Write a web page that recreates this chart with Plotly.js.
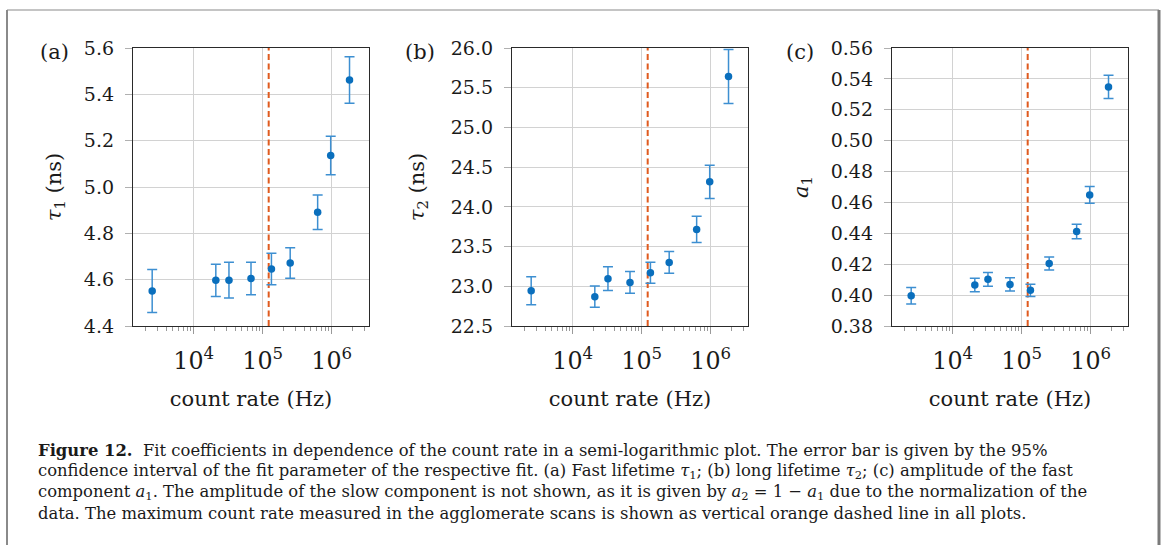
<!DOCTYPE html>
<html>
<head>
<meta charset="utf-8">
<script src="https://cdn.plot.ly/plotly-3.0.1.min.js"></script>
<style>
  html, body { margin: 0; padding: 0; background: #ffffff; }
  #chart { width: 1163px; height: 545px; }
</style>
</head>
<body>
<div id="chart"></div>
<script>
// ---- data ----
const countRate = [2500, 20900, 32400, 67600, 133700, 250000, 625000, 966000, 1810000]; // Hz
const tau1      = [4.551, 4.597, 4.598, 4.605, 4.646, 4.672, 4.891, 5.136, 5.462];       // ns
const tau1Err   = [0.093, 0.070, 0.077, 0.070, 0.068, 0.066, 0.074, 0.083, 0.100];
const tau2      = [22.945, 22.869, 23.096, 23.049, 23.171, 23.301, 23.716, 24.315, 25.640]; // ns
const tau2Err   = [0.176, 0.134, 0.149, 0.137, 0.132, 0.136, 0.166, 0.210, 0.340];
const a1        = [0.3996, 0.4065, 0.4102, 0.4069, 0.4031, 0.4205, 0.4412, 0.4649, 0.5348];
const a1Err     = [0.0054, 0.0044, 0.0044, 0.0043, 0.0040, 0.0042, 0.0047, 0.0054, 0.0075];
const maxAgglomerateRate = 122000; // Hz, vertical dashed line

const tau1Range = [4.4, 5.6];
const tau2Range = [22.5, 26.0];
const a1Range   = [0.38, 0.56];
const panelLabels = ['(a)', '(b)', '(c)'];
const yTitles = ['<i>τ</i><sub>1</sub> (ns)', '<i>τ</i><sub>2</sub> (ns)', '<i>a</i><sub>1</sub>'];
const xTitle = 'count rate (Hz)';
const captionLines = [
  '<b>Figure 12.</b>  Fit coefficients in dependence of the count rate in a semi-logarithmic plot. The error bar is given by the 95%',
  'confidence interval of the fit parameter of the respective fit. (a) Fast lifetime <i>τ</i><sub>1</sub>; (b) long lifetime <i>τ</i><sub>2</sub>; (c) amplitude of the fast',
  'component <i>a</i><sub>1</sub>. The amplitude of the slow component is not shown, as it is given by <i>a</i><sub>2</sub> = 1 − <i>a</i><sub>1</sub> due to the normalization of the',
  'data. The maximum count rate measured in the agglomerate scans is shown as vertical orange dashed line in all plots.'
];

// ---- styling ----
const W = 1163, H = 545;
const FONT = 'DejaVu Serif';
const markerColor = '#0a6fbd';
const errColor = '#3d8fd1';
const dashColor = '#e05a1e';
const gridColor = '#d2d2d2';
const tickColor = '#9a9a9a';

const panels = [
  {y: tau1, err: tau1Err, range: tau1Range, dtick: 0.2, fmt: '.1f', x0: 133, x1: 369, standoff: 16},
  {y: tau2, err: tau2Err, range: tau2Range, dtick: 0.5, fmt: '.1f', x0: 512, x1: 748, standoff: 20},
  {y: a1,   err: a1Err,   range: a1Range,   dtick: 0.02, fmt: '.2f', x0: 892, x1: 1128, standoff: 16}
];
const plotTop = 48, plotBottom = 326;

const traces = [];
const layout = {
  width: W, height: H,
  margin: {l: 0, r: 0, t: 0, b: 0},
  paper_bgcolor: '#ffffff',
  plot_bgcolor: '#ffffff',
  showlegend: false,
  font: {family: FONT, size: 19, color: '#1a1a1a'},
  annotations: [],
  shapes: []
};

panels.forEach((p, i) => {
  const n = i === 0 ? '' : String(i + 1);
  const xa = 'x' + n, ya = 'y' + n;
  // dashed line: maximum count rate in agglomerate scans
  traces.push({
    x: [maxAgglomerateRate, maxAgglomerateRate], y: p.range,
    xaxis: xa, yaxis: ya, mode: 'lines', hoverinfo: 'skip',
    line: {color: dashColor, width: 2, dash: '6px,3.5px'}
  });
  traces.push({
    x: countRate, y: p.y, xaxis: xa, yaxis: ya, mode: 'markers',
    marker: {color: markerColor, size: 7.5},
    error_y: {type: 'data', array: p.err, visible: true, color: errColor, thickness: 1.5, width: 5}
  });
  layout['xaxis' + n] = {
    type: 'log', range: [3.12, 6.54], domain: [p.x0 / W, p.x1 / W], anchor: ya,
    dtick: 1, exponentformat: 'power',
    showgrid: true, gridcolor: gridColor, gridwidth: 1, zeroline: false,
    showline: true, mirror: true, linecolor: '#2a2a2a', linewidth: 1.3,
    ticks: 'outside', ticklen: 7, tickcolor: tickColor, tickwidth: 1,
    minor: {dtick: 'D1', ticks: 'outside', ticklen: 4, tickcolor: tickColor, tickwidth: 1, showgrid: false},
    ticklabelstandoff: 7,
    title: {text: xTitle, font: {family: FONT, size: 21, color: '#1a1a1a'}, standoff: 17}
  };
  layout['yaxis' + n] = {
    range: p.range, domain: [1 - plotBottom / H, 1 - plotTop / H], anchor: xa,
    dtick: p.dtick, tickformat: p.fmt,
    showgrid: true, gridcolor: gridColor, gridwidth: 1, zeroline: false,
    showline: true, mirror: true, linecolor: '#2a2a2a', linewidth: 1.3,
    ticks: 'outside', ticklen: 7, tickcolor: '#b0b0b0', tickwidth: 1,
    ticklabelstandoff: 7,
    title: {text: yTitles[i], font: {family: FONT, size: 21, color: '#1a1a1a'}, standoff: p.standoff}
  };
});

// panel labels
const labelX = [54, 420, 800];
panelLabels.forEach((t, i) => {
  layout.annotations.push({
    text: t, xref: 'paper', yref: 'paper', x: labelX[i] / W, y: 1 - 52 / H,
    xanchor: 'center', yanchor: 'middle', showarrow: false,
    font: {family: FONT, size: 21, color: '#1a1a1a'}
  });
});

// caption
const capY = [450, 471, 492, 513];
captionLines.forEach((t, i) => {
  layout.annotations.push({
    text: t, xref: 'paper', yref: 'paper', x: 36 / W, y: 1 - capY[i] / H,
    xanchor: 'left', yanchor: 'middle', showarrow: false, align: 'left',
    font: {family: FONT, size: 16.4, color: '#1a1a1a'}
  });
});

// figure frame (left, top, right edges)
layout.shapes.push(
  {type: 'line', xref: 'paper', yref: 'paper', x0: 7 / W, x1: 7 / W, y0: 0, y1: 1 - 10 / H, line: {color: '#8a8a8a', width: 2}},
  {type: 'line', xref: 'paper', yref: 'paper', x0: 7 / W, x1: 1159 / W, y0: 1 - 10 / H, y1: 1 - 10 / H, line: {color: '#8a8a8a', width: 1.2}},
  {type: 'line', xref: 'paper', yref: 'paper', x0: 1159 / W, x1: 1159 / W, y0: 0, y1: 1 - 10 / H, line: {color: '#7a7a7a', width: 3}}
);

Plotly.newPlot('chart', traces, layout, {displayModeBar: false});
</script>
</body>
</html>
